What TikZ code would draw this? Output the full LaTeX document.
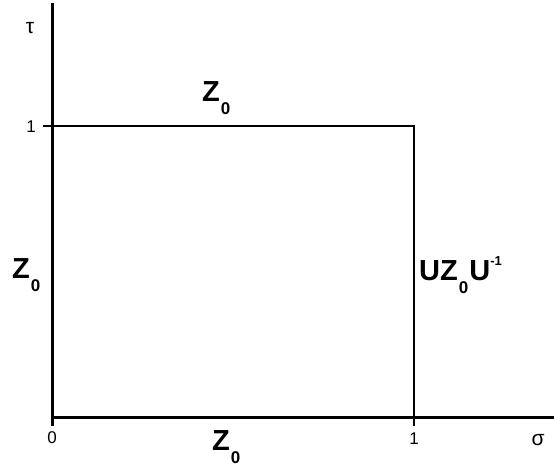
\documentclass[tikz,border=0pt]{standalone}
\usepackage{fontspec}
\setmainfont{Liberation Sans}
\newcommand{\zsub}{\raisebox{-13pt}{\fontsize{17}{17}\selectfont\bfseries 0}}
\newcommand{\zlab}{{\fontsize{29}{29}\selectfont\bfseries Z\kern1pt\zsub}}
\begin{document}
\begin{tikzpicture}[x=1pt,y=-1pt,
  axis/.style={line width=3pt},
  edge/.style={line width=2.6pt},
  num/.style={font=\fontsize{17}{17}\selectfont, inner sep=0pt},
  greek/.style={font=\fontsize{21}{21}\selectfont, inner sep=0pt},
  zl/.style={inner sep=0pt, anchor=base west}]
\useasboundingbox (0,0) rectangle (554,468);
\coordinate (ytop) at (52,3);
\coordinate (ybot) at (52,426);
\coordinate (xl) at (52,417);
\coordinate (xr) at (554,417);
\coordinate (tl) at (43,126);
\coordinate (tr) at (414,126);
\coordinate (br) at (414,426);
\draw[axis] (ytop) -- (ybot);
\draw[axis] (xl) -- (xr);
\draw[edge] (tl) -- (tr) -- (br);
\node[greek] (tau) at (30,28) {τ};
\node[num] (one) at (31,127) {1};
\node[num] (zero) at (52,438) {0};
\node[num] (onex) at (414,439) {1};
\node[greek] (sigma) at (538,440) {σ};
\node[zl] (ztop) at (202,102) {\zlab};
\node[zl] (zleft) at (12,278) {\zlab};
\node[zl] (zbot) at (212,450) {\zlab};
\node[zl] (uzu) at (419,280) {{\fontsize{29}{29}\selectfont\bfseries UZ\kern1pt\zsub\kern1pt U\raisebox{15pt}{\fontsize{13}{13}\selectfont\bfseries -1}}};
\end{tikzpicture}
\end{document}
